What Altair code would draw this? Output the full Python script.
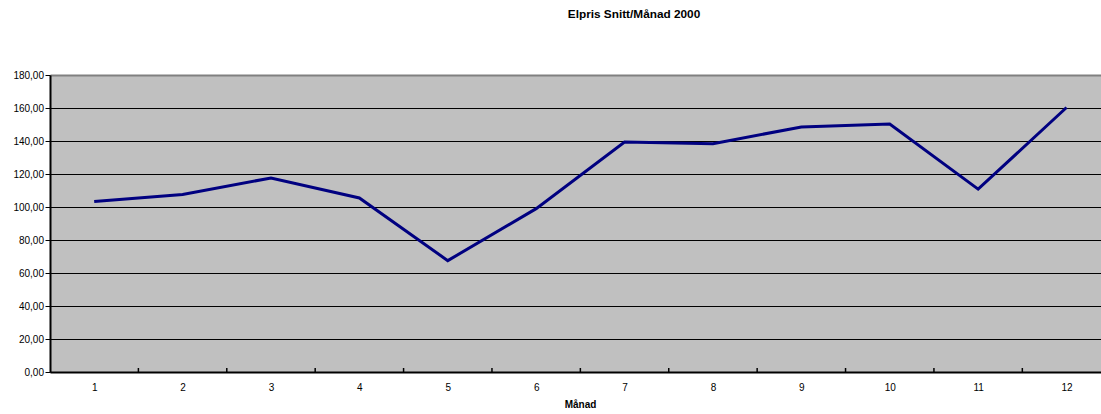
import altair as alt
import pandas as pd

# Average electricity price per month, year 2000
title_text = "Elpris Snitt/Månad 2000"
x_title = "Månad"
months = list(range(1, 13))
prices = [103.4, 107.6, 117.6, 105.5, 67.5, 99.0, 139.4, 138.4, 148.5, 150.3, 110.8, 160.3]
y_ticks = list(range(0, 181, 20))
between_ticks = [m + 0.5 for m in months[:-1]]

df = pd.DataFrame({"month": months, "price": prices})
ticks_df = pd.DataFrame({"month": between_ticks})
title_df = pd.DataFrame({"t": [title_text]})

W, H = 1051, 297
FONT = "Liberation Sans"

xscale = alt.Scale(domain=[0.5, 12.39], nice=False, zero=False)
yscale = alt.Scale(domain=[0, 180], nice=False, zero=True)

x_axis = alt.Axis(
    values=months, ticks=False, grid=False,
    domainColor="black", domainWidth=2,
    labelFont=FONT, labelFontSize=10, labelColor="black",
    labelPadding=10, labelAngle=0,
    title=x_title, titleFont=FONT, titleFontSize=10, titleFontWeight="bold",
    titleColor="black", titleX=530, titleY=35.5, titleBaseline="alphabetic",
)
y_axis = alt.Axis(
    values=y_ticks,
    labelExpr="replace(format(datum.value, '.2f'), '.', ',')",
    grid=True,
    gridColor=alt.condition("datum.value == 180", alt.value("#808080"), alt.value("black")),
    gridWidth=alt.condition("datum.value == 180", alt.value(2), alt.value(1)),
    domainColor="black", domainWidth=2,
    tickColor="black", tickSize=5, tickWidth=1,
    labelFont=FONT, labelFontSize=10, labelColor="black", labelPadding=1.5,
    title=None,
)

line = alt.Chart(df).mark_line(color="#000080", strokeWidth=3).encode(
    x=alt.X("month:Q", scale=xscale, axis=x_axis),
    y=alt.Y("price:Q", scale=yscale, axis=y_axis),
)

# short inward tick marks on the category boundaries
inner_ticks = alt.Chart(ticks_df).mark_rule(color="black", strokeWidth=1.5).encode(
    x=alt.X("month:Q", scale=xscale, axis=x_axis),
    y=alt.value(H),
    y2=alt.value(H - 4),
)

title = alt.Chart(title_df).mark_text(
    font=FONT, fontSize=11.8, fontWeight="bold", color="black", align="center", baseline="middle"
).encode(
    text="t:N",
    x=alt.value(584),
    y=alt.value(-61),
)

chart = (
    alt.layer(line, inner_ticks, title)
    .properties(
        width=W, height=H,
        autosize=alt.AutoSizeParams(type="none"),
        padding={"left": 50, "top": 75, "right": 0, "bottom": 42},
        background="white",
    )
    .configure_view(fill="#C0C0C0", stroke=None)
)

chart.save("out.html", embed_options={"renderer": "svg", "actions": False})
